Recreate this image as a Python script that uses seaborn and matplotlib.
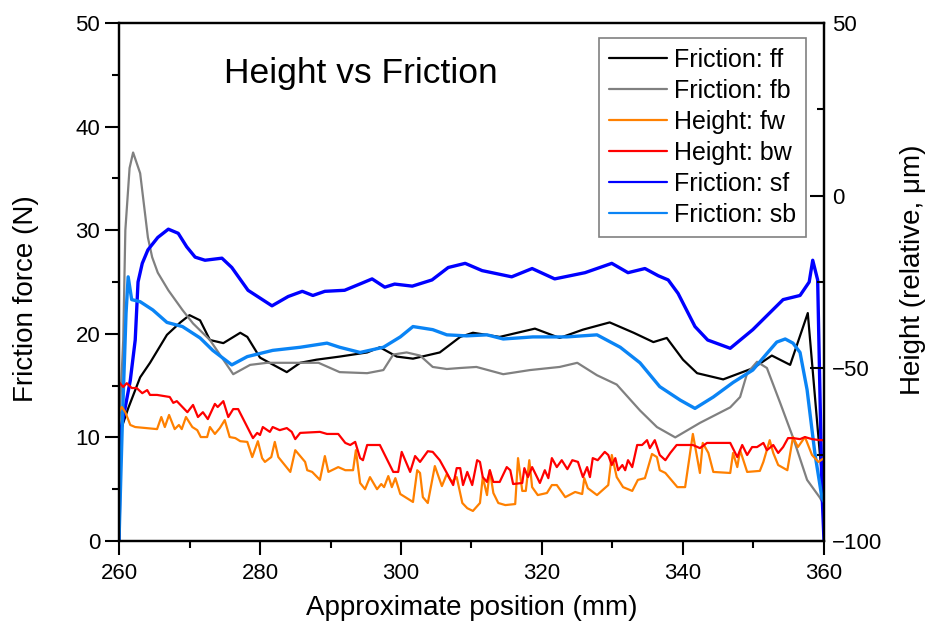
import matplotlib
matplotlib.use("Agg")
import matplotlib.pyplot as plt
import seaborn as sns
import pandas as pd
from matplotlib.ticker import MultipleLocator

# ---------------- data ----------------
ff_x = [260, 261.3, 263, 264.4, 266.8, 268.7, 270, 271.5, 272.9, 274.8, 277.2, 278.2, 280, 283.8,
        285.7, 288, 291.3, 295.2, 297, 299.4, 301.7, 305.5, 308.4, 310.2, 314, 319, 322.5, 325.8,
        329.6, 333, 335.8, 337.7, 340, 342, 345.7, 350, 352.6, 355.2, 357.7, 359.4, 360]
ff_y = [10.2, 12.8, 15.8, 17.2, 19.9, 21.1, 21.8, 21.3, 19.4, 19.1, 20.1, 19.7, 17.7, 16.3,
        17.2, 17.5, 17.8, 18.2, 18.7, 17.8, 17.6, 18.2, 19.7, 20.1, 19.7, 20.5, 19.6, 20.4,
        21.1, 20.1, 19.2, 19.6, 17.5, 16.2, 15.6, 16.7, 17.9, 17.0, 22.0, 8.5, 4.5]

fb_x = [260, 260.6, 260.9, 261.5, 262, 263, 264.1, 264.7, 265.5, 267, 269, 270.5, 272.9, 274.5,
        276.2, 278.6, 281, 285.7, 288.3, 291.3, 295.2, 297.5, 298.9, 300.8, 302.7, 304.5, 306.5,
        308.4, 310.7, 314.5, 318.3, 322.5, 325, 327.8, 330.6, 333.9, 336.3, 338.9, 342.4, 346.7,
        348.1, 349.1, 350.5, 351.9, 353.8, 355.6, 357.6, 359.4, 360]
fb_y = [10.5, 19.4, 30, 36, 37.5, 35.5, 29.3, 27.4, 25.9, 24.2, 22.3, 21.0, 19.4, 17.8,
        16.1, 17.0, 17.2, 17.2, 17.2, 16.3, 16.2, 16.5, 18.0, 18.2, 17.9, 16.8, 16.6,
        16.7, 16.8, 16.1, 16.5, 16.8, 17.2, 16.0, 15.1, 12.6, 11.0, 10.0, 11.4, 12.9,
        13.9, 16.2, 17.3, 16.7, 13.3, 10.0, 5.9, 4.2, 3.5]

sf_x = [260, 260.2, 260.8, 261.6, 262.3, 262.7, 263.3, 264.1, 265.5, 267, 268.4, 269.6, 270.8,
        272.2, 274.6, 276, 278.3, 281.7, 284, 286, 287.5, 289.2, 292, 294.5, 295.9, 297.7, 299.1,
        301.6, 304.4, 306.7, 309.1, 311.5, 312.9, 315.7, 318.6, 321.8, 326.1, 329.9, 332.2, 334.6,
        336.5, 337.9, 339.3, 341.7, 343.5, 346.7, 349.9, 354.2, 356.6, 357.9, 358.4, 359.1, 359.7, 360]
sf_y = [0, 10.5, 12.6, 15.5, 19.4, 25.0, 26.8, 28.1, 29.3, 30.1, 29.7, 28.4, 27.4,
        27.1, 27.3, 26.4, 24.2, 22.7, 23.6, 24.1, 23.7, 24.1, 24.2, 24.9, 25.3, 24.5, 24.8,
        24.6, 25.2, 26.4, 26.8, 26.1, 25.9, 25.5, 26.3, 25.3, 25.9, 26.8, 25.9, 26.3,
        25.6, 25.2, 23.9, 20.7, 19.4, 18.6, 20.4, 23.3, 23.7, 25.0, 27.1, 25.2, 5, 0]

sb_x = [260, 260.5, 261, 261.3, 261.8, 263, 264.8, 266.8, 269, 271.5, 273.3, 276, 278.2, 281.8,
        285.7, 289.5, 291.3, 294.2, 297.5, 299.9, 301.7, 304.5, 306.5, 309.3, 312.2, 314.5, 318.7,
        323.5, 327.8, 331.1, 333.9, 336.7, 339.6, 341.7, 344.3, 347.1, 349.9, 351.9, 353.3, 354.5,
        355.6, 356.6, 357.6, 358.7, 359.7, 360]
sb_y = [0, 12, 22, 25.5, 23.3, 23.1, 22.3, 21.1, 20.7, 19.6, 18.4, 17.0, 17.8, 18.4,
        18.7, 19.1, 18.7, 18.2, 18.7, 19.7, 20.7, 20.4, 19.9, 19.8, 19.9, 19.5, 19.7,
        19.7, 19.9, 18.7, 17.2, 14.9, 13.6, 12.8, 13.9, 15.3, 16.5, 18.1, 19.2, 19.5,
        19.1, 18.2, 14.6, 8.5, 4.2, 3.8]

# Height series (right axis, relative µm)
bw_x = [260.0, 260.6, 261.1, 261.8, 262.5, 263.3, 264.0, 264.4, 265.4, 267.2, 267.7, 268.2, 269.7,
        270.5, 271.2, 271.9, 272.6, 273.6, 274.0, 274.8, 275.5, 276.2, 276.9, 278.2, 279.0, 279.6,
        280.0, 280.4, 281.4, 281.8, 282.8, 283.8, 284.5, 285.0, 285.7, 288.5, 289.5, 291.1, 292.1,
        292.8, 293.5, 294.2, 294.6, 295.2, 297.0, 298.9, 299.6, 300.1, 301.3, 302.0, 302.7, 303.8,
        304.5, 305.5, 306.5, 307.4, 307.9, 308.4, 308.8, 309.4, 310.1, 310.8, 311.2, 311.6, 312.2,
        312.6, 313.1, 314.0, 315.0, 315.5, 315.9, 317.2, 317.5, 318.0, 318.6, 319.7, 320.4, 320.9,
        321.4, 322.1, 322.8, 323.6, 324.3, 325.1, 325.8, 326.4, 326.8, 327.2, 327.9, 328.9, 329.4,
        329.9, 330.4, 330.8, 331.4, 331.8, 332.2, 332.8, 333.5, 334.2, 334.9, 335.3, 336.0, 336.7,
        337.5, 338.2, 339.1, 340.0, 341.4, 342.4, 343.4, 346.7, 347.7, 348.4, 349.1, 349.8, 350.5,
        351.4, 351.9, 352.8, 353.5, 354.2, 354.9, 355.6, 356.6, 357.3, 358.3, 359.4, 360.0]
bw_y = [-54.0, -55.4, -54.3, -55.7, -55.7, -57.2, -56.3, -57.7, -57.7, -58.3, -60.0, -59.5, -62.7,
        -60.6, -64.1, -62.7, -64.7, -60.3, -61.2, -59.5, -64.1, -61.8, -61.8, -67.0, -70.2, -68.7,
        -69.3, -67.0, -68.4, -67.0, -67.9, -67.3, -68.4, -70.5, -68.7, -68.4, -69.0, -69.0, -71.6,
        -72.2, -71.3, -76.0, -76.6, -72.2, -72.2, -80.0, -80.0, -74.2, -80.0, -75.4, -77.1, -74.0,
        -74.2, -76.6, -80.3, -83.8, -78.9, -78.9, -83.8, -80.0, -83.8, -76.6, -77.1, -81.5, -82.9,
        -79.5, -82.9, -82.9, -78.6, -79.5, -83.5, -83.2, -78.9, -81.5, -78.6, -83.2, -79.5, -81.8,
        -76.0, -78.6, -76.6, -79.2, -76.6, -77.1, -81.5, -78.6, -81.5, -76.0, -76.6, -74.2, -75.1,
        -78.0, -76.0, -79.5, -78.0, -79.5, -76.6, -78.6, -72.2, -72.2, -70.8, -73.1, -70.8, -75.1,
        -76.6, -74.5, -72.2, -72.2, -72.2, -73.1, -71.6, -71.6, -75.7, -72.2, -75.1, -72.8, -72.8,
        -71.6, -73.7, -72.2, -74.5, -72.8, -70.2, -70.2, -70.5, -69.9, -70.5, -70.8, -70.8]

fw_x = [260.0, 260.4, 260.9, 261.6, 262.3, 265.4, 266.0, 266.5, 267.1, 267.9, 268.5, 268.9, 269.5,
        270.4, 271.1, 271.6, 272.5, 272.9, 273.6, 274.3, 275.0, 275.7, 276.5, 277.2, 278.2, 278.9,
        279.7, 280.3, 280.7, 281.6, 282.1, 282.6, 284.3, 285.0, 285.7, 286.4, 286.7, 287.4, 288.5,
        289.2, 289.7, 291.1, 292.1, 293.2, 293.6, 294.2, 294.9, 295.6, 296.6, 297.2, 297.6, 298.2,
        298.7, 299.2, 299.9, 301.7, 302.3, 302.7, 303.1, 303.8, 304.8, 305.8, 306.5, 307.2, 307.9,
        308.7, 309.4, 310.2, 311.2, 311.6, 312.2, 312.6, 313.1, 313.8, 314.8, 316.2, 316.6, 317.2,
        317.7, 318.2, 318.6, 319.4, 320.7, 321.4, 322.1, 323.3, 324.7, 325.7, 326.0, 326.5, 327.8,
        329.4, 329.9, 330.6, 331.5, 332.8, 333.6, 334.6, 335.6, 336.3, 336.7, 337.5, 339.2, 340.3,
        341.0, 341.4, 342.0, 342.4, 342.8, 343.6, 344.3, 346.7, 347.1, 347.7, 348.1, 349.1, 350.9,
        351.4, 352.3, 352.8, 353.5, 354.8, 355.6, 356.3, 357.3, 358.3, 359.2, 360.0]
fw_y = [-62.5, -61.2, -62.7, -66.4, -67.0, -67.6, -64.1, -67.0, -63.5, -67.6, -66.4, -67.6, -64.1,
        -67.0, -67.9, -69.9, -69.9, -67.0, -69.0, -67.3, -65.0, -69.9, -70.2, -71.1, -71.3, -75.7,
        -71.1, -76.0, -77.1, -75.7, -71.3, -75.7, -80.0, -73.7, -75.4, -77.1, -79.5, -80.0, -82.3,
        -75.4, -80.0, -78.6, -79.5, -79.5, -73.7, -83.2, -85.0, -81.5, -85.0, -83.5, -84.4, -81.2,
        -84.4, -81.8, -86.4, -88.7, -79.5, -80.3, -87.3, -89.0, -78.3, -84.1, -80.6, -82.9, -81.5,
        -89.0, -90.5, -91.3, -89.0, -81.5, -86.7, -79.5, -86.1, -89.0, -89.6, -89.3, -76.0, -85.5,
        -85.5, -76.6, -84.4, -86.7, -86.1, -83.8, -83.8, -87.3, -85.8, -86.4, -81.8, -84.7, -86.7,
        -83.8, -75.1, -81.5, -84.4, -85.5, -82.3, -81.8, -74.8, -75.7, -79.5, -80.3, -84.4, -84.4,
        -74.5, -69.0, -75.7, -80.3, -71.6, -74.5, -80.0, -80.3, -74.5, -78.6, -73.7, -80.0, -79.7,
        -77.1, -70.8, -74.5, -78.0, -79.5, -69.9, -72.8, -69.9, -75.1, -77.1, -76.0]

x_ticks = [260, 280, 300, 320, 340, 360]
left_ticks = [0, 10, 20, 30, 40, 50]
right_ticks = [-100, -50, 0, 50]

# ---------------- style ----------------
sns.set_style("ticks")
plt.rcParams["font.family"] = ["Liberation Sans", "DejaVu Sans"]
plt.rcParams["text.color"] = "black"
plt.rcParams["axes.labelcolor"] = "black"
plt.rcParams["xtick.color"] = "black"
plt.rcParams["ytick.color"] = "black"
plt.rcParams["legend.labelcolor"] = "black"

fig = plt.figure(figsize=(9.31, 6.27), dpi=100)
ax = fig.add_axes([119 / 931, 1 - 541 / 627, 705 / 931, 518 / 627])
ax2 = ax.twinx()

def df(x, y):
    return pd.DataFrame({"x": x, "y": y})

sns.lineplot(data=df(ff_x, ff_y), x="x", y="y", ax=ax, color="black", lw=1.6,
             estimator=None, label="Friction: ff", legend=False)
sns.lineplot(data=df(fb_x, fb_y), x="x", y="y", ax=ax, color="#808080", lw=1.6,
             estimator=None, label="Friction: fb", legend=False)
sns.lineplot(data=df(sf_x, sf_y), x="x", y="y", ax=ax, color="#0000FF", lw=2.4,
             estimator=None, label="Friction: sf", legend=False)
sns.lineplot(data=df(sb_x, sb_y), x="x", y="y", ax=ax, color="#0A84F5", lw=2.4,
             estimator=None, label="Friction: sb", legend=False)
sns.lineplot(data=df(fw_x, fw_y), x="x", y="y", ax=ax2, color="#FF8000", lw=1.6,
             estimator=None, label="Height: fw", legend=False)
sns.lineplot(data=df(bw_x, bw_y), x="x", y="y", ax=ax2, color="#FF0000", lw=1.6,
             estimator=None, label="Height: bw", legend=False)

ax.set_xlim(260, 360)
ax.set_ylim(0, 50)
ax2.set_ylim(-100, 50)
ax.set_xticks(x_ticks)
ax.set_yticks(left_ticks)
ax2.set_yticks(right_ticks)
ax.xaxis.set_minor_locator(MultipleLocator(10))
ax.yaxis.set_minor_locator(MultipleLocator(5))
ax2.yaxis.set_minor_locator(MultipleLocator(25))

for a in (ax, ax2):
    for s in a.spines.values():
        s.set_visible(True)
        s.set_color("black")
        s.set_linewidth(1.6)

ax.tick_params(axis="both", which="both", direction="out", width=1.5, colors="black",
               labelsize=16, top=False, right=False)
ax.tick_params(axis="both", which="major", length=10)
ax.tick_params(axis="both", which="minor", length=5)
ax.tick_params(axis="x", pad=6)
ax2.tick_params(axis="y", which="both", direction="in", width=1.5, colors="black",
                labelsize=16, pad=6)
ax2.tick_params(axis="y", which="major", length=10)
ax2.tick_params(axis="y", which="minor", length=5)

ax.set_xlabel("Approximate position (mm)", fontsize=20, color="black")
ax.set_ylabel("Friction force (N)", fontsize=20, color="black")
ax2.set_ylabel("Height (relative, \u03bcm)", fontsize=20, color="black")
ax.xaxis.set_label_coords(0.5, -0.105)
ax.yaxis.set_label_coords(-0.113, 0.467)
ax2.yaxis.set_label_coords(1.108, 0.523)

ax.text(0.343, 0.903, "Height vs Friction", transform=ax.transAxes, fontsize=25.5,
        ha="center", va="center", color="black")

h1, l1 = ax.get_legend_handles_labels()
h2, l2 = ax2.get_legend_handles_labels()
hmap = dict(zip(l1 + l2, h1 + h2))
order = ["Friction: ff", "Friction: fb", "Height: fw", "Height: bw", "Friction: sf", "Friction: sb"]
handles = [hmap[k] for k in order]
leg = ax2.legend(handles, order, loc="upper right", bbox_to_anchor=(0.9745, 0.971),
                 borderaxespad=0, fontsize=18, frameon=True, fancybox=False,
                 edgecolor="#808080", framealpha=1, labelspacing=0.28,
                 handlelength=2.3, handletextpad=0.28, borderpad=0.4, labelcolor="black")
leg.get_frame().set_linewidth(1.2)
for lh in leg.get_lines():
    lh.set_linewidth(1.6)

fig.savefig("out.png", dpi=100)
